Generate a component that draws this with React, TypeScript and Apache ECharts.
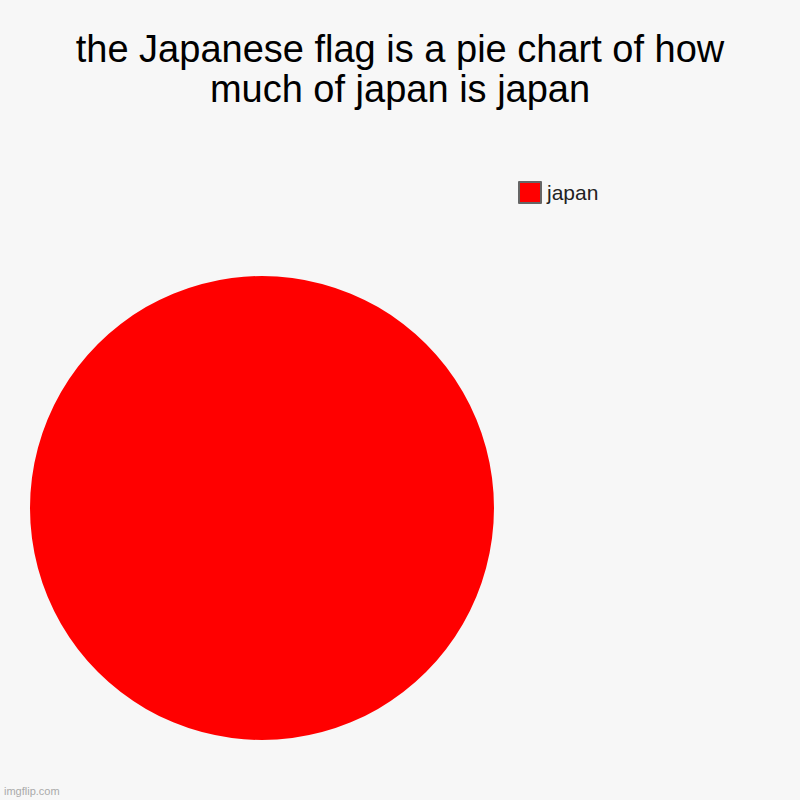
import { useEffect, useRef } from 'react';
import * as echarts from 'echarts';

const categories = ['japan'];
const values = [100];
const colors = ['#ff0000'];

const TITLE = 'the Japanese flag is a pie chart of how\nmuch of japan is japan';

export default function App() {
  const ref = useRef<HTMLDivElement>(null);

  useEffect(() => {
    document.body.style.margin = '0';
    const dom = ref.current!;
    const chart = echarts.init(dom, null, { renderer: 'svg' });

    chart.setOption({
      animation: false,
      backgroundColor: '#f7f7f7',
      textStyle: { fontFamily: 'Liberation Sans, Arial, sans-serif' },
      title: {
        text: TITLE,
        left: 'center',
        top: 24,
        textStyle: {
          fontSize: 38,
          fontWeight: 'normal',
          color: '#000',
          lineHeight: 40,
          fontFamily: 'Liberation Sans, Arial, sans-serif',
        },
      },
      legend: {
        left: 513,
        top: 176,
        orient: 'vertical',
        icon: 'rect',
        itemWidth: 22,
        itemHeight: 21,
        itemGap: 8,
        data: categories,
        itemStyle: { borderColor: '#666', borderWidth: 2 },
        textStyle: { fontSize: 21, color: '#222', padding: [0, 0, 0, 1] },
      },
      graphic: [
        {
          type: 'text',
          left: 4,
          top: 785,
          style: {
            text: 'imgflip.com',
            fontSize: 11,
            fill: '#aaa',
            fontFamily: 'Liberation Sans, Arial, sans-serif',
          },
        },
      ],
      series: [
        {
          type: 'pie',
          center: [262, 508],
          radius: 232,
          label: { show: false },
          labelLine: { show: false },
          silent: true,
          itemStyle: { borderWidth: 0 },
          data: categories.map((name, i) => ({
            name,
            value: values[i],
            itemStyle: { color: colors[i] },
          })),
        },
      ],
    } as echarts.EChartsOption);

    return () => {
      chart.dispose();
    };
  }, []);

  return <div ref={ref} style={{ width: 800, height: 800 }} />;
}
